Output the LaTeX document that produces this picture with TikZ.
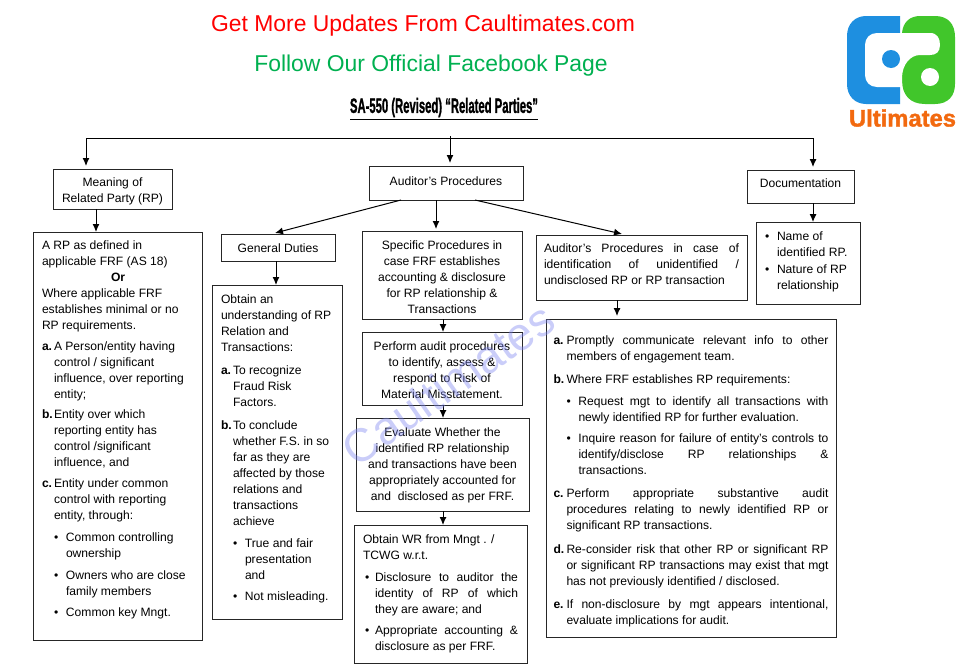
\documentclass[tikz,border=0pt]{standalone}
\usepackage{fontspec}
\setmainfont{Liberation Sans}
\newfontfamily\heavyfont[FakeBold=1.6]{Liberation Sans Bold}
\usetikzlibrary{arrows.meta}
\definecolor{logoblue}{HTML}{1E8FE0}
\definecolor{logogreen}{HTML}{41C62B}
\definecolor{logoorange}{HTML}{F2690F}
\definecolor{fbgreen}{HTML}{00B050}
\definecolor{wmblue}{HTML}{8088F0}
\tikzset{
  boxs/.style={draw=black!85,line width=1pt,anchor=north west,outer sep=0pt,
    font=\fontsize{12.1}{16}\selectfont,text=black},
  arr/.style={-{Latex[length=8pt,width=7pt]},line width=1pt,black},
  headline/.style={font=\fontsize{22.9}{26}\selectfont}
}
% #1 name, #2 xsep, #3 ysep, #4-#7 x1,y1,x2,y2, #8 content
\newcommand\tb[8]{\node[boxs,inner xsep=#2pt,inner ysep=#3pt] (#1) at (#4,#5)
  {\parbox[t][\dimexpr #7pt-#5pt-#3pt-#3pt\relax][t]{\dimexpr #6pt-#4pt-#2pt-#2pt\relax}{#8}};}
% #1 gap, #2 total indent, #3 label width, #4 label, #5 text
\newcommand\li[5]{\par\vspace{#1pt}{\hangindent=#2pt\hangafter=1\noindent\strut
  \hspace*{\dimexpr #2pt-#3pt\relax}\makebox[#3pt][l]{#4}#5\par}}
\begin{document}
\begin{tikzpicture}[x=1pt,y=-1pt]
\useasboundingbox (0,0) rectangle (971,670);
\hyphenpenalty=10000 \tolerance=10000 \hbadness=10000

\node[headline,text=red] (head1) at (423,26) {Get More Updates From Caultimates.com};
\node[headline,text=fbgreen] (head2) at (431,66) {Follow Our Official Facebook Page};
\node[inner sep=0pt] (title) at (444,109) {\resizebox{188pt}{15pt}{\fontsize{14}{16}\selectfont\heavyfont\underline{SA-550 (Revised) “Related Parties”}}};

% logo
\fill[logoblue] (900,16) -- (866,16) .. controls (855,16) and (847,24) .. (847,36) -- (847,84) .. controls (847,96) and (855,104) .. (866,104) -- (900,104) -- cycle;
\fill[logogreen] (902,33) .. controls (903,22) and (910,16) .. (920,16) -- (935,16) .. controls (948,16) and (955,24) .. (955,37) -- (955,84) .. controls (955,96) and (948,104) .. (935,104) -- (925,104) .. controls (910,104) and (902,95) .. (902,80) -- cycle;
\fill[white] (877,33) -- (930,33) .. controls (937,33) and (940,38) .. (940,45) .. controls (940,52) and (936,55) .. (930,55) -- (920,55) .. controls (910,55) and (902,65) .. (902,78) -- (902,87) -- (877,87) .. controls (870,87) and (865,82) .. (865,75) -- (865,45) .. controls (865,38) and (870,33) .. (877,33) -- cycle;
\fill[logoblue] (891,59) circle (9pt);
\fill[white] (930,77) circle (9pt);
\node[text=logoorange,inner sep=0pt] (logotext) at (902.5,118) {\resizebox{107pt}{!}{\fontsize{21}{24}\selectfont\heavyfont Ultimates}};

% boxes
\tb{mean}{9}{6}{53}{169}{172}{209}{\centering\strut Meaning of\\Related Party (RP)}
\tb{aud}{9}{8}{369}{166}{523}{200}{\centering\strut Auditor’s Procedures}
\tb{doc}{9}{6}{747}{170}{854}{203}{\centering\strut Documentation}
\tb{gen}{9}{7}{221}{234}{335}{261}{\centering\strut General Duties}
\tb{spec}{9}{7}{362}{231}{522}{319}{\centering\strut Specific Procedures in\\case FRF establishes\\accounting \& disclosure\\for RP relationship \&\\Transactions}
\tb{perf}{9}{7}{362}{332}{522}{405}{\centering\strut Perform audit procedures\\to identify, assess \&\\respond to Risk of\\Material Misstatement.}
\tb{eval}{9}{7}{356}{418}{529}{511}{\centering\strut Evaluate Whether the\\identified RP relationship\\and transactions have been\\appropriately accounted for\\and\ \ disclosed as per FRF.}
\tb{cased}{8}{6}{536}{235}{747}{300}{\strut Auditor’s Procedures in case of\linebreak identification of unidentified /\linebreak undisclosed RP or RP transaction}
\tb{name}{9}{7}{756}{222}{860}{304}{\li{0}{12}{12}{•}{Name of\\identified RP.}\li{1}{12}{12}{•}{Nature of RP\\relationship}}

\tb{rp}{9}{6}{33}{232}{202}{640}{\strut A RP as defined in\\applicable FRF (AS 18)\\\hspace*{69pt}\textbf{Or}\\Where applicable FRF\\establishes minimal or no\\RP requirements.
\li{5}{12}{12}{\textbf{a.}}{A Person/entity having\\control / significant\\influence, over reporting\\entity;}
\li{4}{12}{12}{\textbf{b.}}{Entity over which\\reporting entity has\\control /significant\\influence, and}
\li{5}{12}{12}{\textbf{c.}}{Entity under common\\control with reporting\\entity, through:}
\li{6}{24}{12}{•}{Common controlling\\ownership}
\li{6}{24}{12}{•}{Owners who are close\\family members}
\li{5}{24}{12}{•}{Common key Mngt.}}

\tb{obt}{9}{7}{212}{285}{342}{619}{\strut Obtain an\\understanding of RP\\Relation and\\Transactions:
\li{7}{12}{12}{\textbf{a.}}{To recognize\\Fraud Risk\\Factors.}
\li{7}{12}{12}{\textbf{b.}}{To conclude\\whether F.S. in so\\far as they are\\affected by those\\relations and\\transactions\\achieve}
\li{6}{24}{12}{•}{True and fair\\presentation\\and}
\li{5}{24}{12}{•}{Not misleading.}}

\tb{wr}{9}{7}{354}{525}{527}{663}{\strut Obtain WR from Mngt . /\\TCWG w.r.t.
\li{6}{12}{10}{•}{Disclosure to auditor the\linebreak identity of RP of which\linebreak they are aware; and}
\li{5}{12}{10}{•}{Appropriate accounting \&\linebreak disclosure as per FRF.}}

\tb{big}{7.5}{14}{546}{319}{836}{637}{\li{0}{13}{13}{\textbf{a.}}{Promptly communicate relevant info to other\linebreak members of engagement team.}
\li{7}{13}{13}{\textbf{b.}}{Where FRF establishes RP requirements:}
\li{6}{25}{12}{•}{Request mgt to identify all transactions with\linebreak newly identified RP for further evaluation.}
\li{5}{25}{12}{•}{Inquire reason for failure of entity’s controls to\linebreak identify/disclose RP relationships \&\linebreak transactions.}
\li{7}{13}{13}{\textbf{c.}}{Perform appropriate substantive audit\linebreak procedures relating to newly identified RP or\linebreak significant RP transactions.}
\li{8}{13}{13}{\textbf{d.}}{Re-consider risk that other RP or significant RP\linebreak or significant RP transactions may exist that mgt\linebreak has not previously identified / disclosed.}
\li{7}{13}{13}{\textbf{e.}}{If non-disclosure by mgt appears intentional,\linebreak evaluate implications for audit.}}

% connector positions
\coordinate (hubtop) at (450,138);
\coordinate (hubsrc) at (450,136);
\coordinate (xmean) at (86,0);
\coordinate (xdoc) at (813,0);
\coordinate (xrp) at (96,0);
\coordinate (xgen) at (276,0);
\coordinate (xspec) at (436,0);
\coordinate (xcol) at (443,0);
\coordinate (xbig) at (617,0);
\coordinate (audl) at (401,200);
\coordinate (audr) at (475,200);
\coordinate (genin) at (275,233);
\coordinate (casein) at (622,234);

\draw[arr,shorten >=3pt] (hubsrc) -- (hubsrc |- aud.north);
\draw[arr,shorten >=3pt] (hubtop) -| (xmean |- mean.north);
\draw[arr,shorten >=3pt] (hubtop) -| (xdoc |- doc.north);
\draw[arr] (xrp |- mean.south) -- (xrp |- rp.north);
\draw[arr] (xgen |- gen.south) -- (xgen |- obt.north);
\draw[arr,shorten >=2pt] (xspec |- aud.south) -- (xspec |- spec.north);
\draw[arr] (xcol |- spec.south) -- (xcol |- perf.north);
\draw[arr] (xcol |- perf.south) -- (xcol |- eval.north);
\draw[arr] (xcol |- eval.south) -- (xcol |- wr.north);
\draw[arr,shorten >=3pt] (xbig |- cased.south) -- (xbig |- big.north);
\draw[arr] (xdoc |- doc.south) -- (xdoc |- name.north);
\draw[arr] (audl) -- (genin);
\draw[arr] (audr) -- (casein);

% watermark
\node[rotate=35,text=wmblue,text opacity=0.42,inner sep=0pt] (wm) at (448,384) {\fontsize{46.5}{50}\selectfont Caultimates};
\end{tikzpicture}
\end{document}
